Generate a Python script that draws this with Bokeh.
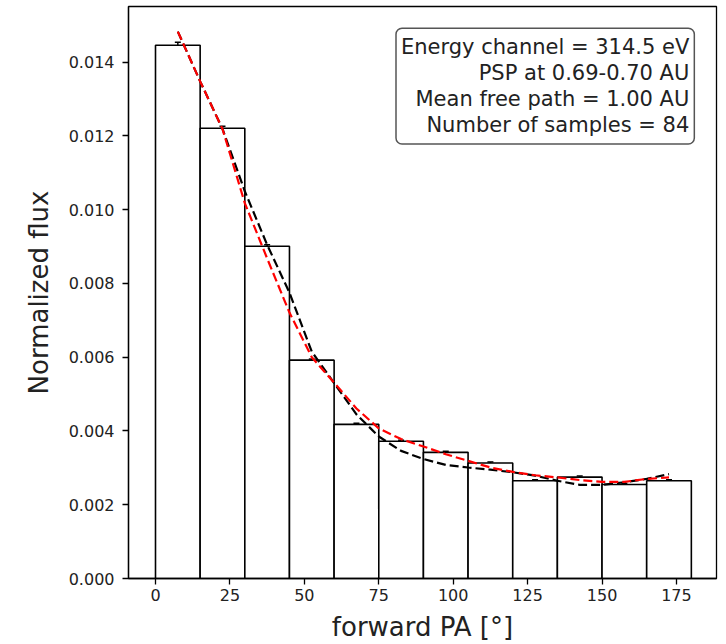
from bokeh.plotting import figure
from bokeh.models import Range1d, FixedTicker, PrintfTickFormatter, Label, ColumnDataSource, Whisker, TeeHead
from bokeh.embed import file_html
from bokeh.resources import INLINE

# Histogram (forward pitch angle bins, 15 deg wide)
bin_left = [0, 15, 30, 45, 60, 75, 90, 105, 120, 135, 150, 165]
bin_right = [15, 30, 45, 60, 75, 90, 105, 120, 135, 150, 165, 180]
flux = [0.01446, 0.01221, 0.00901, 0.00592, 0.00418, 0.00372, 0.00342, 0.00313,
        0.00265, 0.00275, 0.00255, 0.00265]
flux_err = [0.00008, 0.00005, 0.00004, 0.00003, 0.00003, 0.00003, 0.00003, 0.00003,
            0.00003, 0.00003, 0.00003, 0.00003]
bin_center = [7.5, 22.5, 37.5, 52.5, 67.5, 82.5, 97.5, 112.5, 127.5, 142.5, 157.5, 172.5]

# Model curves
model_pa = [7.5, 15, 22.5, 30, 37.5, 45, 52.5, 60, 67.5, 75, 82.5, 90, 97.5, 105,
            112.5, 120, 127.5, 135, 142.5, 150, 157.5, 165, 172.5]
model_black = [0.01483, 0.01348, 0.01219, 0.01050, 0.00905, 0.00775, 0.00615, 0.00530,
               0.00445, 0.00385, 0.00346, 0.00324, 0.00308, 0.00301, 0.00295, 0.00288,
               0.00279, 0.00265, 0.00254, 0.00254, 0.00261, 0.00270, 0.00283]
model_red = [0.01483, 0.01348, 0.01219, 0.01018, 0.00868, 0.00721, 0.00600, 0.00531,
             0.00461, 0.00407, 0.00378, 0.00358, 0.00337, 0.00319, 0.00301, 0.00289,
             0.00280, 0.00274, 0.00267, 0.00262, 0.00262, 0.00270, 0.00274]

y_ticks = [0.0, 0.002, 0.004, 0.006, 0.008, 0.010, 0.012, 0.014]
x_ticks = [0, 25, 50, 75, 100, 125, 150, 175]

info_lines = ["Energy channel = 314.5 eV", "PSP at 0.69-0.70 AU",
              "Mean free path = 1.00 AU", "Number of samples = 84"]

FONT = "DejaVu Sans"

p = figure(width=726, height=644, output_backend="svg", toolbar_location=None,
           x_range=Range1d(-9.07, 188.45), y_range=Range1d(0, 0.01551),
           min_border_left=128, min_border_right=10, min_border_top=6, min_border_bottom=65)
p.grid.visible = False
p.outline_line_color = "black"
p.outline_line_width = 1.3
p.background_fill_color = "white"
p.border_fill_color = "white"

p.quad(left=bin_left, right=bin_right, top=flux, bottom=0,
       fill_color="white", line_color="black", line_width=1.6)

src = ColumnDataSource(dict(x=bin_center,
                            lo=[f - e for f, e in zip(flux, flux_err)],
                            hi=[f + e for f, e in zip(flux, flux_err)]))
p.add_layout(Whisker(source=src, base="x", lower="lo", upper="hi", line_color="black",
                     line_width=1.5,
                     upper_head=TeeHead(size=6, line_color="black", line_width=1.5),
                     lower_head=TeeHead(size=6, line_color="black", line_width=1.5)))

p.line(model_pa, model_black, line_color="black", line_width=2.2, line_dash="9 4")
p.line(model_pa, model_red, line_color="red", line_width=2.2, line_dash="9 4")

for ax in (p.xaxis, p.yaxis):
    ax.major_tick_in = 0
    ax.major_tick_out = 6
    ax.major_tick_line_width = 1.3
    ax.axis_line_width = 1.3
    ax.minor_tick_line_color = None
    ax.axis_line_color = "black"
    ax.major_tick_line_color = "black"
    ax.major_label_text_font = FONT
    ax.major_label_text_font_size = "16px"
    ax.major_label_text_color = "#222222"
    ax.axis_label_text_font = FONT
    ax.axis_label_text_font_size = "26px"
    ax.axis_label_text_font_style = "normal"
    ax.axis_label_text_color = "#222222"

p.xaxis.ticker = FixedTicker(ticks=x_ticks)
p.yaxis.ticker = FixedTicker(ticks=y_ticks)
p.yaxis.formatter = PrintfTickFormatter(format="%.3f")
p.xaxis.axis_label = "forward PA [°]"
p.yaxis.axis_label = "Normalized flux"
p.xaxis.major_label_standoff = 4
p.yaxis.major_label_standoff = 8
p.xaxis.axis_label_standoff = 8
p.yaxis.axis_label_standoff = 12

p.add_layout(Label(x=181.0, y=0.01492, text="\n".join(info_lines),
                   text_align="right", anchor="top_right",
                   text_font=FONT, text_font_size="21px", text_color="#222222",
                   text_line_height=1.08,
                   border_line_color="#555555", border_line_width=1.5,
                   border_radius=6, background_fill_color="white",
                   padding=(5, 7)))

open("out.html", "w").write(file_html(p, INLINE))
